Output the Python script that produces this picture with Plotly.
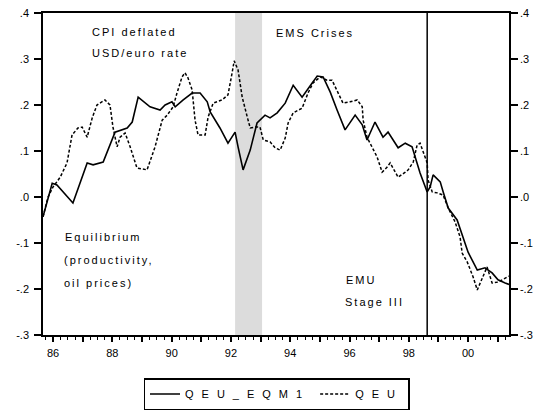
import plotly.graph_objects as go

# ---- data (decimal years, values) ----
dates_eqm1 = [1985.66, 1985.97, 1986.13, 1986.67, 1987.15, 1987.35, 1987.69, 1987.99, 1988.09,
              1988.50, 1988.67, 1988.87, 1989.27, 1989.61, 1989.78, 1990.01, 1990.12, 1990.39,
              1990.69, 1990.96, 1991.20, 1991.30, 1991.63, 1991.90, 1992.14, 1992.24, 1992.41,
              1992.65, 1992.88, 1993.15, 1993.32, 1993.56, 1993.83, 1994.10, 1994.40, 1994.74,
              1994.91, 1995.11, 1995.35, 1995.58, 1995.85, 1996.19, 1996.43, 1996.59, 1996.86,
              1997.13, 1997.30, 1997.64, 1997.88, 1998.11, 1998.21, 1998.38, 1998.62, 1998.72,
              1998.82, 1999.06, 1999.16, 1999.33, 1999.63, 1999.80, 2000.00, 2000.31, 2000.57,
              2000.81, 2001.01, 2001.25, 2001.38]
qeu_eqm1 = [-0.043, 0.030, 0.026, -0.013, 0.074, 0.070, 0.076, 0.124, 0.141,
            0.150, 0.163, 0.217, 0.196, 0.189, 0.200, 0.207, 0.196, 0.211,
            0.226, 0.226, 0.207, 0.185, 0.150, 0.117, 0.141, 0.109, 0.059,
            0.102, 0.161, 0.178, 0.172, 0.183, 0.204, 0.243, 0.217, 0.248,
            0.263, 0.261, 0.228, 0.189, 0.146, 0.178, 0.157, 0.124, 0.163,
            0.130, 0.141, 0.107, 0.117, 0.109, 0.087, 0.052, 0.011, 0.022,
            0.048, 0.033, 0.011, -0.024, -0.050, -0.083, -0.120, -0.159, -0.154,
            -0.165, -0.180, -0.187, -0.190]

dates_qeu = [1985.66, 1985.83, 1986.00, 1986.24, 1986.47, 1986.64, 1986.84, 1986.98, 1987.15,
             1987.32, 1987.48, 1987.75, 1987.92, 1988.02, 1988.16, 1988.26, 1988.43, 1988.60,
             1988.83, 1989.17, 1989.44, 1989.68, 1989.85, 1990.05, 1990.18, 1990.35, 1990.45,
             1990.55, 1990.69, 1990.79, 1990.89, 1991.13, 1991.23, 1991.40, 1991.70, 1991.90,
             1992.04, 1992.11, 1992.24, 1992.38, 1992.55, 1992.65, 1992.82, 1992.98, 1993.09,
             1993.32, 1993.49, 1993.66, 1993.83, 1993.93, 1994.10, 1994.40, 1994.60, 1994.77,
             1995.01, 1995.24, 1995.41, 1995.62, 1995.78, 1996.02, 1996.26, 1996.43, 1996.46,
             1996.59, 1996.76, 1996.93, 1997.10, 1997.27, 1997.37, 1997.54, 1997.64, 1997.88,
             1997.98, 1998.15, 1998.28, 1998.38, 1998.48, 1998.62, 1998.65, 1998.79, 1998.96,
             1999.16, 1999.33, 1999.56, 1999.73, 1999.80, 1999.97, 2000.17, 2000.31, 2000.55,
             2000.64, 2000.81, 2001.01, 2001.32, 2001.38]
qeu = [-0.043, 0.000, 0.022, 0.043, 0.074, 0.135, 0.150, 0.152, 0.130,
       0.172, 0.200, 0.211, 0.200, 0.152, 0.109, 0.130, 0.139, 0.109,
       0.063, 0.059, 0.109, 0.167, 0.178, 0.196, 0.226, 0.261, 0.270,
       0.259, 0.233, 0.167, 0.135, 0.135, 0.174, 0.204, 0.211, 0.222,
       0.270, 0.296, 0.276, 0.217, 0.174, 0.150, 0.152, 0.152, 0.124,
       0.120, 0.107, 0.102, 0.128, 0.161, 0.183, 0.193, 0.226, 0.248,
       0.261, 0.254, 0.254, 0.226, 0.204, 0.207, 0.211, 0.196, 0.167,
       0.130, 0.109, 0.087, 0.054, 0.065, 0.074, 0.054, 0.043, 0.054,
       0.059, 0.076, 0.113, 0.117, 0.098, 0.074, 0.037, 0.011, 0.009,
       0.004, -0.024, -0.054, -0.087, -0.122, -0.141, -0.174, -0.202, -0.165,
       -0.152, -0.187, -0.185, -0.174, -0.172]

y_tick_vals = [0.4, 0.3, 0.2, 0.1, 0.0, -0.1, -0.2, -0.3]
y_tick_text = [".4", ".3", ".2", ".1", ".0", "-.1", "-.2", "-.3"]
x_tick_years = list(range(1986, 2002))
x_tick_text = [("%02d" % (y % 100)) if y % 2 == 0 else "" for y in x_tick_years]

ems_crisis = [1992.14, 1993.05]
emu_stage3 = 1998.62

# ---- geometry: target plot box in window pixels; page body has an 8px margin ----
OFF = 8
W, H = 542 - OFF, 410 - OFF
L, R, T, B = 43, 509, 13, 335
def px(x):
    return (x - L) / (R - L)
def py(y):
    return (B - y) / (B - T)

FONT = "Liberation Sans"
sp = lambda s, ls=2: '<span style="letter-spacing:%dpx">%s</span>' % (ls, s)

fig = go.Figure()
fig.add_trace(go.Scatter(x=dates_eqm1, y=qeu_eqm1, mode="lines", name=sp("QEU_EQM1", 8),
                         line=dict(color="black", width=1.6)))
fig.add_trace(go.Scatter(x=dates_qeu, y=qeu, mode="lines", name=sp("QEU", 8),
                         line=dict(color="black", width=1.5, dash="3px,2px")))
fig.add_trace(go.Scatter(x=[dates_qeu[0]], y=[qeu[0]], yaxis="y2", mode="markers",
                         marker=dict(opacity=0), showlegend=False, hoverinfo="skip"))

fig.add_shape(type="rect", xref="x", yref="paper", x0=ems_crisis[0], x1=ems_crisis[1],
              y0=0, y1=1, fillcolor="#dcdcdc", line=dict(width=0), layer="below")
fig.add_shape(type="line", xref="x", yref="paper", x0=emu_stage3, x1=emu_stage3,
              y0=0, y1=1, line=dict(color="black", width=1.5))

annots = [
    ("CPI deflated", 90, 32), ("USD/euro rate", 90, 53), ("EMS Crises", 274, 33),
    ("Equilibrium", 63, 237), ("(productivity,", 62, 260), ("oil prices)", 62, 283),
    ("EMU", 344, 280), ("Stage III", 343, 302),
]
for txt, x, y in annots:
    fig.add_annotation(text=sp(txt, 2), xref="paper", yref="paper", x=px(x), y=py(y),
                       xanchor="left", yanchor="middle", showarrow=False,
                       font=dict(family=FONT, size=11, color="black"))

yax = dict(range=[-0.3, 0.4], tickvals=y_tick_vals, ticktext=y_tick_text,
           ticks="outside", ticklen=7, tickwidth=1.5, tickcolor="black",
           showgrid=False, zeroline=False, showline=True, linecolor="black", linewidth=1.5,
           automargin=False, ticklabeloverflow="allow",
           tickfont=dict(family=FONT, size=11, color="black"))

fig.update_layout(
    width=W, height=H, autosize=False,
    margin=dict(l=L - OFF, r=W - (R - OFF), t=T - OFF, b=H - (B - OFF)),
    paper_bgcolor="white", plot_bgcolor="white",
    xaxis=dict(range=[1985.66, 2001.38], tickvals=x_tick_years, ticktext=x_tick_text,
               ticks="outside", ticklen=5, tickwidth=1.5, tickcolor="black",
               minor=dict(dtick=0.25, tick0=1986, ticks="outside", ticklen=3,
                          tickwidth=1, tickcolor="black", showgrid=False),
               showgrid=False, zeroline=False, showline=True, mirror=True,
               linecolor="black", linewidth=1.5, automargin=False, ticklabelstandoff=2,
               tickfont=dict(family=FONT, size=11, color="black")),
    yaxis=dict(**yax, mirror=True, ticklabelstandoff=3),
    yaxis2=dict(**yax, overlaying="y", side="right", ticklabelstandoff=0),
    showlegend=True,
    legend=dict(orientation="h", xref="container", yref="container",
                x=(276.5 - OFF) / W, xanchor="center",
                y=1 - (378 - OFF) / H, yanchor="top",
                bordercolor="black", borderwidth=1.5, bgcolor="white",
                font=dict(family=FONT, size=11, color="black")),
)

fig.write_html("out.html")
